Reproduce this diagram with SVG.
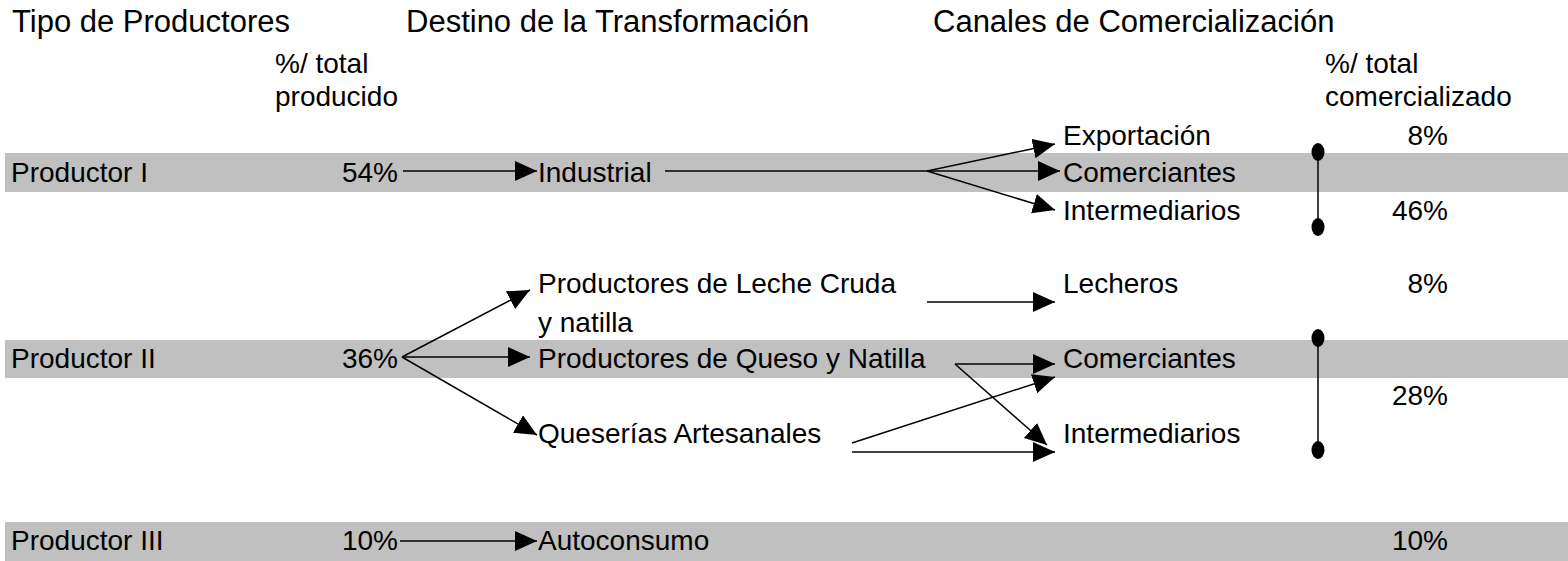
<svg xmlns="http://www.w3.org/2000/svg" width="1568" height="561" viewBox="0 0 1568 561">
<defs>
<marker id="arr" markerUnits="userSpaceOnUse" markerWidth="23" markerHeight="21" refX="22" refY="10" orient="auto" viewBox="0 0 23 21">
<path d="M0,0 L22,10 L0,20 z" fill="#000"/>
</marker>
<style>
text{font-family:"Liberation Sans",Arial,sans-serif;fill:#000}
.t{font-size:31px}
.b{font-size:28px}
.r{text-anchor:end}
.bar{fill:#c0c0c0}
.c{stroke:#000;stroke-width:1.5;fill:none}
.a{marker-end:url(#arr)}
.dot{fill:#000}
</style>
</defs>
<rect width="1568" height="561" fill="#fff"/>
<g id="bars">
<rect class="bar" x="5" y="153" width="1563" height="39"/>
<rect class="bar" x="5" y="340" width="1563" height="38"/>
<rect class="bar" x="5" y="522" width="1563" height="39"/>
</g>
<g id="headers">
<text class="t" x="12" y="32">Tipo de Productores</text>
<text class="t" x="406" y="32">Destino de la Transformación</text>
<text class="t" x="933" y="32">Canales de Comercialización</text>
<text class="b" x="275" y="73">%/ total</text>
<text class="b" x="275" y="106">producido</text>
<text class="b" x="1325" y="73">%/ total</text>
<text class="b" x="1325" y="106">comercializado</text>
</g>
<g id="productor-1">
<text class="b" x="11" y="182">Productor I</text>
<text class="b r" x="398" y="182">54%</text>
</g>
<g id="industrial"><text class="b" x="538" y="182">Industrial</text></g>
<g id="exportacion"><text class="b" x="1063" y="145">Exportación</text></g>
<g id="comerciantes-1"><text class="b" x="1063" y="182">Comerciantes</text></g>
<g id="intermediarios-1"><text class="b" x="1063" y="220">Intermediarios</text></g>
<g id="pct-r1">
<text class="b r" x="1448" y="145">8%</text>
<text class="b r" x="1448" y="220">46%</text>
</g>
<g id="productor-2">
<text class="b" x="11" y="368">Productor II</text>
<text class="b r" x="398" y="368">36%</text>
</g>
<g id="leche-cruda">
<text class="b" x="538" y="293">Productores de Leche Cruda</text>
<text class="b" x="538" y="332">y natilla</text>
</g>
<g id="queso-natilla"><text class="b" x="538" y="368">Productores de Queso y Natilla</text></g>
<g id="queserias"><text class="b" x="538" y="443">Queserías Artesanales</text></g>
<g id="lecheros"><text class="b" x="1063" y="293">Lecheros</text></g>
<g id="comerciantes-2"><text class="b" x="1063" y="368">Comerciantes</text></g>
<g id="intermediarios-2"><text class="b" x="1063" y="443">Intermediarios</text></g>
<g id="pct-r2">
<text class="b r" x="1448" y="293">8%</text>
<text class="b r" x="1448" y="405">28%</text>
</g>
<g id="productor-3">
<text class="b" x="11" y="550">Productor III</text>
<text class="b r" x="398" y="550">10%</text>
</g>
<g id="autoconsumo"><text class="b" x="538" y="550">Autoconsumo</text></g>
<g id="pct-r3"><text class="b r" x="1448" y="550">10%</text></g>
<g id="connectors">
<line class="c a" x1="403" y1="171" x2="537" y2="171"/>
<line class="c" x1="665" y1="171" x2="927" y2="171"/>
<line class="c a" x1="927" y1="171" x2="1055" y2="144"/>
<line class="c a" x1="927" y1="171" x2="1060" y2="171"/>
<line class="c a" x1="927" y1="171" x2="1055" y2="210"/>
<line class="c" x1="1318" y1="152" x2="1318" y2="227"/>
<ellipse class="dot" cx="1318" cy="152" rx="6.5" ry="9"/>
<ellipse class="dot" cx="1318" cy="227" rx="6.5" ry="9"/>
<line class="c a" x1="402" y1="357" x2="530" y2="290"/>
<line class="c a" x1="402" y1="357" x2="530" y2="357"/>
<line class="c a" x1="402" y1="357" x2="537" y2="435"/>
<line class="c a" x1="927" y1="302" x2="1055" y2="302"/>
<line class="c a" x1="955" y1="364" x2="1055" y2="364"/>
<line class="c a" x1="955" y1="364" x2="1047" y2="445"/>
<line class="c a" x1="852" y1="443" x2="1055" y2="377"/>
<line class="c a" x1="852" y1="452" x2="1055" y2="452"/>
<line class="c" x1="1318" y1="338" x2="1318" y2="450"/>
<ellipse class="dot" cx="1318" cy="338" rx="6.5" ry="9"/>
<ellipse class="dot" cx="1318" cy="450" rx="6.5" ry="9"/>
<line class="c a" x1="400" y1="541" x2="537" y2="541"/>
</g>
</svg>
